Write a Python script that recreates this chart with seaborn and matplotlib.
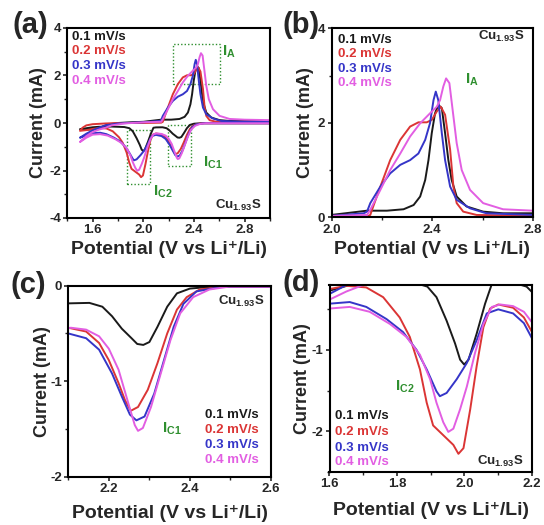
import numpy as np
import pandas as pd
import matplotlib
matplotlib.use("Agg")
import matplotlib.pyplot as plt
from matplotlib.patches import Rectangle
from matplotlib.ticker import MultipleLocator
import seaborn as sns

# scan rates and colours
rates = ["0.1 mV/s", "0.2 mV/s", "0.3 mV/s", "0.4 mV/s"]
colors = ["#1a1a1a", "#db3535", "#3535c8", "#e25ee2"]

# ---- 0.1 mV/s ----
v01_cat = [3.0, 2.8, 2.6, 2.5, 2.456, 2.4, 2.368, 2.344, 2.32, 2.30, 2.285, 2.27, 2.256, 2.232,
           2.208, 2.184, 2.152, 2.1, 2.08, 2.061, 2.036, 2.012, 1.999, 1.987, 1.972, 1.947, 1.917,
           1.89, 1.85, 1.75, 1.65, 1.6, 1.55, 1.5]
i01_cat = [-0.01, -0.01, -0.01, -0.01, -0.01, -0.03, -0.08, -0.22, -0.43, -0.59, -0.62, -0.61, -0.55, -0.45,
           -0.32, -0.22, -0.18, -0.185, -0.2, -0.43, -0.80, -1.12, -1.18, -1.12, -0.92, -0.64, -0.35,
           -0.22, -0.17, -0.15, -0.16, -0.18, -0.22, -0.26]
v01_ano = [1.5, 1.55, 1.6, 1.66, 1.72, 1.8, 1.9, 2.0, 2.141, 2.22, 2.286, 2.326, 2.352, 2.372, 2.385,
           2.398, 2.411, 2.424, 2.438, 2.451, 2.464, 2.477, 2.497, 2.536, 2.602, 2.681, 2.8, 3.0]
i01_ano = [-0.26, -0.28, -0.27, -0.2, -0.06, 0.0, 0.03, 0.05, 0.14, 0.14, 0.17, 0.26, 0.44, 0.79, 1.21,
           1.78, 2.20, 2.38, 2.31, 1.78, 1.21, 0.79, 0.44, 0.23, 0.12, 0.085, 0.085, 0.08]

# ---- 0.2 mV/s ----
v02_cat = [3.0, 2.8, 2.6, 2.5, 2.48, 2.424, 2.392, 2.368, 2.344, 2.32, 2.296, 2.272, 2.254, 2.24, 2.224,
           2.2, 2.176, 2.144, 2.1, 2.076, 2.056, 2.036, 2.017, 1.997, 1.982, 1.967, 1.937, 1.907, 1.888,
           1.868, 1.838, 1.808, 1.759, 1.709, 1.65, 1.6, 1.55, 1.5]
i02_cat = [-0.01, -0.01, -0.01, -0.01, -0.01, -0.04, -0.12, -0.25, -0.50, -0.81, -1.09, -1.27, -1.31, -1.20, -1.02,
           -0.78, -0.60, -0.48, -0.44, -0.49, -0.72, -1.20, -1.73, -2.21, -2.28, -2.17, -2.05, -1.93, -1.65,
           -1.24, -0.84, -0.60, -0.35, -0.23, -0.21, -0.25, -0.30, -0.33]
v02_ano = [1.5, 1.52, 1.55, 1.6, 1.7, 1.8, 2.0, 2.141, 2.154, 2.161, 2.194, 2.233, 2.273, 2.312, 2.345,
           2.378, 2.398, 2.418, 2.434, 2.451, 2.471, 2.484, 2.497, 2.523, 2.576, 2.8, 3.0]
i02_ano = [-0.33, -0.2, -0.1, -0.05, -0.02, 0.0, 0.0, 0.014, 0.05, 0.16, 0.65, 1.21, 1.64, 1.92, 2.01,
           2.01, 2.06, 2.24, 2.34, 2.17, 1.43, 0.65, 0.30, 0.12, 0.05, 0.03, 0.03]

# ---- 0.3 mV/s ----
v03_cat = [3.0, 2.8, 2.6, 2.5, 2.48, 2.416, 2.384, 2.36, 2.336, 2.312, 2.288, 2.268, 2.252, 2.232, 2.208,
           2.176, 2.144, 2.1, 2.066, 2.036, 2.007, 1.977, 1.947, 1.927, 1.917, 1.888, 1.858, 1.818, 1.769,
           1.709, 1.66, 1.6, 1.55, 1.5]
i03_cat = [-0.01, -0.01, -0.01, -0.01, -0.01, -0.06, -0.19, -0.43, -0.78, -1.13, -1.37, -1.41, -1.35, -1.16, -0.92,
           -0.67, -0.55, -0.50, -0.55, -0.88, -1.16, -1.36, -1.53, -1.57, -1.51, -1.24, -1.0, -0.78, -0.62,
           -0.47, -0.41, -0.43, -0.52, -0.62]
v03_ano = [1.5, 1.55, 1.6, 1.65, 1.7, 1.8, 2.0, 2.128, 2.141, 2.154, 2.194, 2.233, 2.273, 2.312, 2.345,
           2.372, 2.391, 2.405, 2.414, 2.424, 2.438, 2.451, 2.471, 2.497, 2.55, 2.615, 2.8, 3.0]
i03_ano = [-0.62, -0.45, -0.31, -0.2, -0.1, -0.02, 0.03, 0.085, 0.12, 0.30, 0.65, 0.93, 1.11, 1.21, 1.35,
           1.64, 1.99, 2.48, 2.66, 2.48, 1.78, 1.21, 0.65, 0.37, 0.19, 0.085, 0.05, 0.05]

# ---- 0.4 mV/s ----
v04_cat = [3.0, 2.8, 2.6, 2.5, 2.496, 2.448, 2.408, 2.376, 2.352, 2.328, 2.304, 2.284, 2.272, 2.264, 2.248,
           2.224, 2.2, 2.176, 2.144, 2.106, 2.081, 2.056, 2.031, 2.007, 1.987, 1.967, 1.952, 1.937, 1.917,
           1.898, 1.868, 1.828, 1.779, 1.719, 1.66, 1.6, 1.55, 1.5]
i04_cat = [-0.01, -0.01, -0.01, -0.01, -0.01, -0.04, -0.12, -0.29, -0.57, -0.92, -1.27, -1.49, -1.52, -1.46, -1.23,
           -0.88, -0.66, -0.53, -0.46, -0.44, -0.47, -0.68, -1.04, -1.45, -1.73, -1.97, -2.01, -1.89, -1.65,
           -1.36, -1.06, -0.84, -0.68, -0.53, -0.47, -0.49, -0.62, -0.8]
v04_ano = [1.5, 1.55, 1.6, 1.65, 1.7, 1.75, 1.85, 2.0, 2.141, 2.154, 2.194, 2.233, 2.273, 2.312, 2.352,
           2.391, 2.418, 2.431, 2.444, 2.455, 2.468, 2.481, 2.497, 2.517, 2.55, 2.602, 2.681, 2.8, 3.0]
i04_ano = [-0.8, -0.55, -0.38, -0.28, -0.2, -0.1, -0.02, 0.03, 0.05, 0.16, 0.58, 1.0, 1.35, 1.71, 1.99,
           2.20, 2.34, 2.48, 2.77, 2.94, 2.84, 2.27, 1.57, 1.0, 0.58, 0.30, 0.17, 0.14, 0.12]

potential = [v01_cat + v01_ano, v02_cat + v02_ano, v03_cat + v03_ano, v04_cat + v04_ano]
current = [i01_cat + i01_ano, i02_cat + i02_ano, i03_cat + i03_ano, i04_cat + i04_ano]

frames = []
for rate, v, i in zip(rates, potential, current):
    frames.append(pd.DataFrame({"Potential": v, "Current": i, "Rate": rate, "Step": range(len(v))}))
df = pd.concat(frames, ignore_index=True)

sns.set_theme(style="ticks")
plt.rcParams["font.family"] = ["Liberation Sans", "DejaVu Sans"]
plt.rcParams["font.weight"] = "bold"
plt.rcParams["mathtext.fontset"] = "custom"
plt.rcParams["mathtext.rm"] = "Liberation Sans:bold"
plt.rcParams["mathtext.bf"] = "Liberation Sans:bold"
plt.rcParams["mathtext.it"] = "Liberation Sans:bold"
plt.rcParams["axes.unicode_minus"] = False

W, H = 544, 525
fig = plt.figure(figsize=(W / 100, H / 100), dpi=100)


def px_axes(left, top, right, bottom):
    return fig.add_axes([left / W, 1 - bottom / H, (right - left) / W, (bottom - top) / H])


ax_a = px_axes(67.3, 28, 270, 218)
ax_b = px_axes(331.5, 28.3, 533, 217.3)
ax_c = px_axes(68.3, 285.7, 271, 476.7)
ax_d = px_axes(329.5, 285, 532, 471.7)

green = "#2f8f2f"
cu_label = r"$\mathbf{Cu_{1.93}S}$"

settings = {
    ax_a: dict(xlim=(1.4, 3.0), ylim=(-4, 4), xmaj=0.4, ymaj=2, ylab=-0.10, xlab=-0.165),
    ax_b: dict(xlim=(2.0, 2.8), ylim=(0, 4), xmaj=0.4, ymaj=2, ylab=-0.085, xlab=-0.17),
    ax_c: dict(xlim=(2.1, 2.6), ylim=(-2, 0), xmaj=0.2, ymaj=1, ylab=-0.085, xlab=-0.195),
    ax_d: dict(xlim=(1.6, 2.2), ylim=(-2.5, -0.2), xmaj=0.2, ymaj=1, ylab=-0.09, xlab=-0.21),
}

for ax, s in settings.items():
    sns.lineplot(data=df, x="Potential", y="Current", hue="Rate", units="Rate", estimator=None,
                 sort=False, palette=colors, linewidth=1.4, legend=False, ax=ax)
    ax.set_xlim(*s["xlim"])
    ax.set_ylim(*s["ylim"])
    ax.xaxis.set_major_locator(MultipleLocator(s["xmaj"]))
    ax.xaxis.set_minor_locator(MultipleLocator(s["xmaj"] / 2))
    ax.yaxis.set_major_locator(MultipleLocator(s["ymaj"]))
    ax.yaxis.set_minor_locator(MultipleLocator(s["ymaj"] / 2))
    ax.tick_params(which="major", length=3, width=1.2, labelsize=9.5, pad=1.5)
    ax.tick_params(which="minor", length=2, width=1.0)
    for lab in ax.get_xticklabels() + ax.get_yticklabels():
        lab.set_fontweight("bold")
    for sp in ax.spines.values():
        sp.set_linewidth(1.5)
        sp.set_color("black")
    ax.set_xlabel("Potential (V vs Li\u207a/Li)", fontsize=14, fontweight="bold")
    ax.set_ylabel("Current (mA)", fontsize=13, fontweight="bold")
    ax.xaxis.set_label_coords(0.5, s["xlab"])
    ax.yaxis.set_label_coords(s["ylab"], 0.5)
    ax.xaxis.label.set_va("center")

ax_c.set_xticks([2.2, 2.4, 2.6])
ax_d.set_yticks([-1, -2])


def legend_text(ax, x, ys):
    for y, rate, c in zip(ys, rates, colors):
        ax.text(x, y, rate, transform=ax.transAxes, color=c, fontsize=9.5,
                fontweight="bold", ha="left", va="center")


legend_text(ax_a, 0.023, [0.953, 0.879, 0.800, 0.721])
legend_text(ax_b, 0.032, [0.938, 0.864, 0.783, 0.709])
legend_text(ax_c, 0.674, [0.323, 0.244, 0.165, 0.087])
legend_text(ax_d, 0.027, [0.298, 0.214, 0.129, 0.050])

# panel (a) boxes and peak labels
boxes = [(2.235, 1.63, 2.608, 3.32), (2.195, -1.8, 2.376, -0.1), (1.875, -2.55, 2.056, -0.29)]
for x0, y0, x1, y1 in boxes:
    ax_a.add_patch(Rectangle((x0, y0), x1 - x0, y1 - y0, fill=False, edgecolor=green,
                             linestyle=(0, (1, 1.5)), linewidth=1.0))
ax_a.text(0.763, 0.874, r"$\mathbf{I_A}$", transform=ax_a.transAxes, color=green, fontsize=11, va="center")
ax_a.text(0.67, 0.288, r"$\mathbf{I_{C1}}$", transform=ax_a.transAxes, color=green, fontsize=11, va="center")
ax_a.text(0.424, 0.139, r"$\mathbf{I_{C2}}$", transform=ax_a.transAxes, color=green, fontsize=11, va="center")
ax_a.text(0.96, 0.068, cu_label, transform=ax_a.transAxes, fontsize=9.5, ha="right", va="center")

ax_b.text(0.662, 0.726, r"$\mathbf{I_A}$", transform=ax_b.transAxes, color=green, fontsize=11, va="center")
ax_b.text(0.96, 0.956, cu_label, transform=ax_b.transAxes, fontsize=9.5, ha="right", va="center")

ax_c.text(0.464, 0.253, r"$\mathbf{I_{C1}}$", transform=ax_c.transAxes, color=green, fontsize=11, va="center")
ax_c.text(0.97, 0.918, cu_label, transform=ax_c.transAxes, fontsize=9.5, ha="right", va="center")

ax_d.text(0.323, 0.455, r"$\mathbf{I_{C2}}$", transform=ax_d.transAxes, color=green, fontsize=11, va="center")
ax_d.text(0.957, 0.054, cu_label, transform=ax_d.transAxes, fontsize=9.5, ha="right", va="center")

# panel letters
for label, x, y in [("(a)", 12, 25), ("(b)", 282, 25), ("(c)", 11, 285), ("(d)", 282, 283)]:
    fig.text(x / W, 1 - y / H, label, fontsize=21, fontweight="bold", ha="left", va="center")

fig.savefig("out.png", dpi=100)
